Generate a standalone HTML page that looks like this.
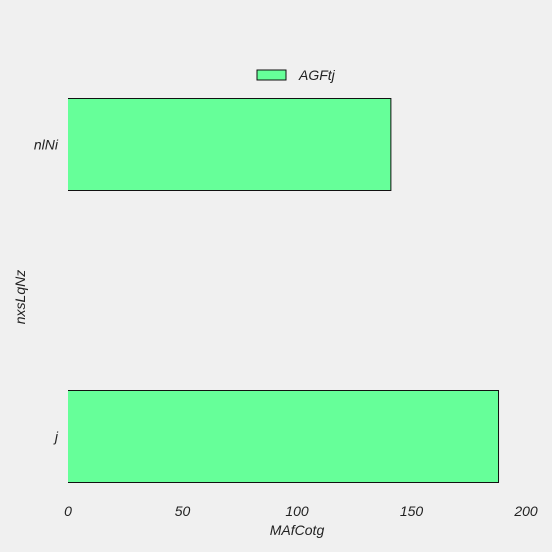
<!DOCTYPE html>
<html><head><meta charset="utf-8"><style>
html,body{margin:0;padding:0;background:#f0f0f0;width:552px;height:552px;overflow:hidden;}
svg{display:block;}
svg text{font-family:"Liberation Sans",sans-serif;font-style:italic;fill:#222;}
</style></head><body>
<svg width="552" height="552" viewBox="0 0 552 552">
<rect width="552" height="552" fill="#f0f0f0"/>
<g id="bars"></g>
<g id="xt"></g>
<g id="yt"></g>
<text x="297" y="535" font-size="14" text-anchor="middle">MAfCotg</text>
<text transform="translate(25,297) rotate(-90)" font-size="14" text-anchor="middle">nxsLqNz</text>
<g>
<rect x="257" y="70" width="29" height="10" fill="#66ff99" stroke="#111" stroke-width="1"/>
<text x="299" y="80" font-size="14">AGFtj</text>
</g>
</svg>
<script>
const categories = ["nlNi", "j"];
const values = [141, 188];
const xTicks = [0, 50, 100, 150, 200];
const NS = "http://www.w3.org/2000/svg";
const x = v => 68 + v * 2.29;
const yc = i => 144.5 + i * 292;
const bh = 92;
const bars = document.getElementById('bars');
categories.forEach((c, i) => {
  const top = yc(i) - bh / 2, bot = yc(i) + bh / 2, x0 = x(0), x1 = x(values[i]);
  const r = document.createElementNS(NS, 'rect');
  r.setAttribute('x', x0); r.setAttribute('y', top);
  r.setAttribute('width', x1 - x0); r.setAttribute('height', bh);
  r.setAttribute('fill', '#66ff99');
  
  
  bars.appendChild(r);
  const p = document.createElementNS(NS, 'path');
  p.setAttribute('d', `M${x0},${top}H${x1}V${bot}H${x0}`);
  p.setAttribute('fill', 'none'); p.setAttribute('stroke', '#111'); p.setAttribute('stroke-width', '1');
  
  
  bars.appendChild(p);
  const t = document.createElementNS(NS, 'text');
  t.setAttribute('x', 58); t.setAttribute('y', yc(i) + 5);
  t.setAttribute('font-size', '14'); t.setAttribute('text-anchor', 'end');
  t.textContent = c;
  
  
  document.getElementById('yt').appendChild(t);
});
xTicks.forEach(v => {
  const t = document.createElementNS(NS, 'text');
  t.setAttribute('x', x(v)); t.setAttribute('y', 516);
  t.setAttribute('font-size', '14'); t.setAttribute('text-anchor', 'middle');
  t.textContent = v;
  
  
  document.getElementById('xt').appendChild(t);
});
</script>
</body></html>
